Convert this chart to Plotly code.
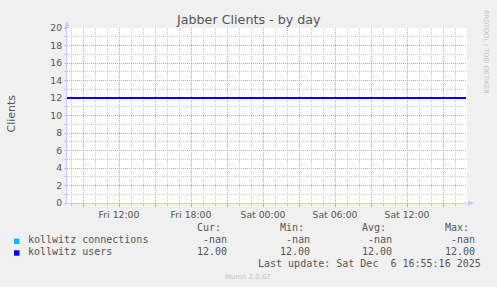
import plotly.graph_objects as go
import pandas as pd

# ---- data ----
times = ["2025-12-05 07:40:00", "2025-12-06 16:55:00"]
users = [12, 12]
connections = [None, None]
series_names = ["kollwitz connections", "kollwitz users"]
series_colors = ["#00BBFF", "#0000FF"]
cur_vals = ["-nan", "12.00"]
min_vals = ["-nan", "12.00"]
avg_vals = ["-nan", "12.00"]
max_vals = ["-nan", "12.00"]
x_start = "2025-12-05 07:40:00"
x_end = "2025-12-06 17:00:00"
major_ticks = pd.date_range("2025-12-05 09:00", "2025-12-06 15:00", freq="3h")
minor_ticks = [t for t in pd.date_range("2025-12-05 08:00", "2025-12-06 16:00", freq="1h")
               if t.hour % 3 != 0]
tick_text = [t.strftime("%a %H:%M") if t.hour % 6 == 0 else "" for t in major_ticks]
y_major = list(range(0, 21, 2))
y_minor = list(range(1, 20, 2))

W, H = 497, 287
L, R, T, B = 67, 30, 28, 84
PW, PH = W - L - R, H - T - B


def px(x):
    return (x - L) / PW


def py(y):
    return (H - B - y) / PH


TXT = "#555555"
MGRID = "#EC9A9A"
GRID = "#C8C8C8"
AXIS = "#C8C8FF"

fig = go.Figure()
fig.add_trace(go.Scatter(x=times, y=connections, mode="lines",
                         line=dict(color=series_colors[0], width=2), showlegend=False))
fig.add_trace(go.Scatter(x=times, y=users, mode="lines",
                         line=dict(color=series_colors[1], width=2), showlegend=False))

fig.update_layout(
    width=W, height=H, autosize=False,
    margin=dict(l=L, r=R, t=T, b=B, pad=0),
    paper_bgcolor="#F0F0F0", plot_bgcolor="#FFFFFF",
    font=dict(family="DejaVu Sans", color=TXT, size=9.3),
    showlegend=False,
)
fig.update_xaxes(
    type="date", range=[x_start, x_end],
    tickmode="array", tickvals=list(major_ticks), ticktext=tick_text,
    showgrid=True, gridcolor=MGRID, griddash="1px,1px", gridwidth=1,
    ticks="outside", ticklen=3, tickcolor=MGRID,
    showline=True, linecolor=AXIS, linewidth=1,
    zeroline=False,
    tickfont=dict(size=9.3, color=TXT),
    minor=dict(tickmode="array", tickvals=minor_ticks, showgrid=True,
               gridcolor=GRID, griddash="1px,1px", ticks="outside", ticklen=2,
               tickcolor=GRID),
)
fig.update_yaxes(
    range=[0, 20], tickmode="array", tickvals=y_major, ticktext=[str(v) for v in y_major],
    showgrid=True, gridcolor=MGRID, griddash="1px,1px", gridwidth=1,
    ticks="outside", ticklen=2, tickcolor=GRID,
    showline=True, linecolor=AXIS, linewidth=1,
    zeroline=False,
    tickfont=dict(size=9.3, color=TXT),
    minor=dict(tickmode="array", tickvals=y_minor, showgrid=True, gridcolor=GRID,
               griddash="1px,1px", ticks="outside", ticklen=2, tickcolor=GRID),
)

ann = []
ann.append(dict(text="Jabber Clients - by day", x=px(248.5), y=py(19), xref="paper", yref="paper",
                xanchor="center", yanchor="middle", showarrow=False,
                font=dict(family="DejaVu Sans", size=12.7, color=TXT)))
ann.append(dict(text="Clients", x=px(10.5), y=py(114), xref="paper", yref="paper",
                xanchor="center", yanchor="middle", showarrow=False, textangle=-90,
                font=dict(family="DejaVu Sans", size=11, color=TXT)))
ann.append(dict(text="RRDTOOL / TOBI OETIKER", x=px(486), y=py(52), xref="paper", yref="paper",
                xanchor="center", yanchor="middle", showarrow=False, textangle=90,
                font=dict(family="DejaVu Sans", size=6.5, color="#C4C4C4")))

MONO = dict(family="DejaVu Sans Mono", size=10, color=TXT)
col_ends = [228.3, 311, 393.3, 476]
headers = ["Cur:", "Min:", "Avg:", "Max:"]
for h, xe in zip(headers, col_ends):
    ann.append(dict(text=h, x=px(xe - 6), y=py(227.7), xref="paper", yref="paper",
                    xanchor="right", yanchor="middle", showarrow=False, font=MONO, borderpad=0))
row_y = [239.3, 251]
for i, name in enumerate(series_names):
    ann.append(dict(text=name, x=px(26.7), y=py(row_y[i]), xref="paper", yref="paper",
                    xanchor="left", yanchor="middle", showarrow=False, font=MONO, borderpad=0))
    for vals, xe in zip([cur_vals, min_vals, avg_vals, max_vals], col_ends):
        ann.append(dict(text=vals[i], x=px(xe), y=py(row_y[i]), xref="paper", yref="paper",
                        xanchor="right", yanchor="middle", showarrow=False, font=MONO, borderpad=0))
ann.append(dict(text="Last update: Sat Dec\u00a0\u00a06 16:55:16 2025", x=px(482.3), y=py(263.3),
                xref="paper", yref="paper", xanchor="right", yanchor="middle", showarrow=False,
                font=MONO, borderpad=0))
ann.append(dict(text="Munin 2.0.67", x=px(248), y=py(276.7), xref="paper", yref="paper",
                xanchor="center", yanchor="middle", showarrow=False,
                font=dict(family="DejaVu Sans", size=7, color="#C4C4C4")))
fig.update_layout(annotations=ann)

shapes = []
for i, c in enumerate(series_colors):
    yc = row_y[i] + 2
    shapes.append(dict(type="rect", xref="paper", yref="paper",
                       x0=px(14), x1=px(19.5), y0=py(yc - 2.7), y1=py(yc + 2.7),
                       fillcolor=c, line=dict(width=0)))
# axis arrows
shapes.append(dict(type="path", xref="paper", yref="paper",
                   path=f"M {px(64.5)} {py(28)} L {px(67)} {py(21)} L {px(69.5)} {py(28)} Z",
                   fillcolor=AXIS, line=dict(width=0)))
shapes.append(dict(type="path", xref="paper", yref="paper",
                   path=f"M {px(468)} {py(200.5)} L {px(474)} {py(203)} L {px(468)} {py(205.5)} Z",
                   fillcolor=AXIS, line=dict(width=0)))
fig.update_layout(shapes=shapes)

fig.write_html("out.html")
